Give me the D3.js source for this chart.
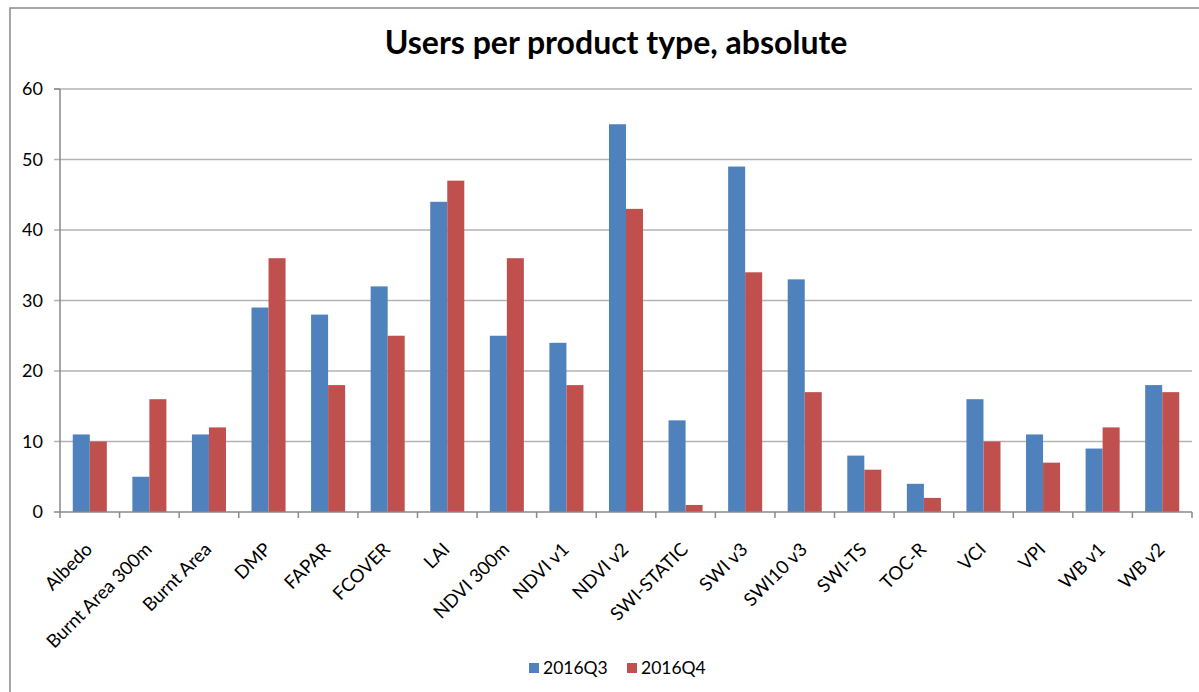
<!DOCTYPE html>
<html>
<head>
<meta charset="utf-8">
<script src="https://cdn.jsdelivr.net/npm/d3@7"></script>
<style>
  html, body { margin: 0; padding: 0; background: #fff; }
  svg { display: block; font-family: Lato, "Open Sans", sans-serif; }
</style>
</head>
<body>
<svg id="chart" width="1199" height="692"></svg>
<script>
// Users per product type, two quarters
const categories = ["Albedo", "Burnt Area 300m", "Burnt Area", "DMP", "FAPAR", "FCOVER", "LAI",
  "NDVI 300m", "NDVI v1", "NDVI v2", "SWI-STATIC", "SWI v3", "SWI10 v3", "SWI-TS", "TOC-R",
  "VCI", "VPI", "WB v1", "WB v2"];
const seriesNames = ["2016Q3", "2016Q4"];
const q3Values = [11, 5, 11, 29, 28, 32, 44, 25, 24, 55, 13, 49, 33, 8, 4, 16, 11, 9, 18];
const q4Values = [10, 16, 12, 36, 18, 25, 47, 36, 18, 43, 1, 34, 17, 6, 2, 10, 7, 12, 17];
const yTicks = [0, 10, 20, 30, 40, 50, 60];
const colors = ["#4F81BD", "#C0504D"];

const svg = d3.select("#chart");

// chart frame (extends past the right and bottom edges)
svg.append("rect")
  .attr("x", 10).attr("y", 8)
  .attr("width", 1300).attr("height", 800)
  .attr("fill", "#fff").attr("stroke", "#898989").attr("stroke-width", 1.5);

const plot = { left: 60, right: 1192, top: 89, bottom: 512 };

const x0 = d3.scaleBand().domain(categories).range([plot.left, plot.right]).padding(0);
const x1 = d3.scaleBand().domain(seriesNames).range([0, x0.bandwidth()])
  .paddingInner(0).paddingOuter(0.75);
const y = d3.scaleLinear().domain([0, 60]).range([plot.bottom, plot.top]);

// horizontal gridlines with y tick labels
svg.append("g").selectAll("line").data(yTicks.filter(t => t > 0)).join("line")
  .attr("x1", plot.left - 6).attr("x2", plot.right)
  .attr("y1", d => y(d)).attr("y2", d => y(d))
  .attr("stroke", "#b3b3b3").attr("stroke-width", 1.5);

svg.append("g").selectAll("text").data(yTicks).join("text")
  .attr("x", 43).attr("y", d => y(d)).attr("dy", "0.36em")
  .attr("text-anchor", "end")
  .attr("font-size", 18).attr("fill", "#000")
  .text(d => d);

// bars
const rows = categories.map((c, i) => ({ cat: c, vals: [q3Values[i], q4Values[i]] }));
const groups = svg.append("g").selectAll("g").data(rows).join("g")
  .attr("transform", d => `translate(${x0(d.cat)},0)`);
groups.selectAll("rect").data(d => d.vals.map((v, k) => ({ s: seriesNames[k], v, k })))
  .join("rect")
  .attr("x", d => x1(d.s))
  .attr("width", x1.bandwidth())
  .attr("y", d => y(d.v))
  .attr("height", d => y(0) - y(d.v))
  .attr("fill", d => colors[d.k]);

// axes
const axisColor = "#898989";
svg.append("line")
  .attr("x1", plot.left).attr("x2", plot.left)
  .attr("y1", plot.top).attr("y2", plot.bottom)
  .attr("stroke", axisColor).attr("stroke-width", 1.5);
svg.append("line")
  .attr("x1", plot.left - 6).attr("x2", plot.right)
  .attr("y1", plot.bottom).attr("y2", plot.bottom)
  .attr("stroke", axisColor).attr("stroke-width", 1.5);
svg.append("line")
  .attr("x1", plot.left - 6).attr("x2", plot.left)
  .attr("y1", plot.top).attr("y2", plot.top)
  .attr("stroke", axisColor).attr("stroke-width", 1.5);

// category boundary ticks
const boundaries = categories.map(c => x0(c)).concat([x0(categories[categories.length - 1]) + x0.bandwidth()]);
svg.append("g").selectAll("line").data(boundaries).join("line")
  .attr("x1", d => d).attr("x2", d => d)
  .attr("y1", plot.bottom).attr("y2", plot.bottom + 6)
  .attr("stroke", axisColor).attr("stroke-width", 1.5);

// rotated category labels
svg.append("g").selectAll("text").data(categories).join("text")
  .attr("transform", d => `translate(${x0(d) + x0.bandwidth() / 2 - 1},${plot.bottom + 34}) rotate(-45)`)
  .attr("text-anchor", "end")
  .attr("dy", "0.35em")
  .attr("font-size", 18.5).attr("fill", "#000")
  .text(d => d);

// title
svg.append("text")
  .attr("x", 616).attr("y", 54)
  .attr("text-anchor", "middle")
  .attr("font-size", 32).attr("font-weight", "bold").attr("fill", "#000")
  .text("Users per product type, absolute");

// legend
const legendItems = [{ name: seriesNames[0], x: 529 }, { name: seriesNames[1], x: 627 }];
const legend = svg.append("g").selectAll("g").data(legendItems).join("g")
  .attr("transform", d => `translate(${d.x},663)`);
legend.append("rect").attr("width", 10).attr("height", 10)
  .attr("fill", (d, i) => colors[i]);
legend.append("text").attr("x", 14).attr("y", 10.5)
  .attr("font-size", 17.5).attr("fill", "#000")
  .text(d => d.name);
</script>
</body>
</html>
